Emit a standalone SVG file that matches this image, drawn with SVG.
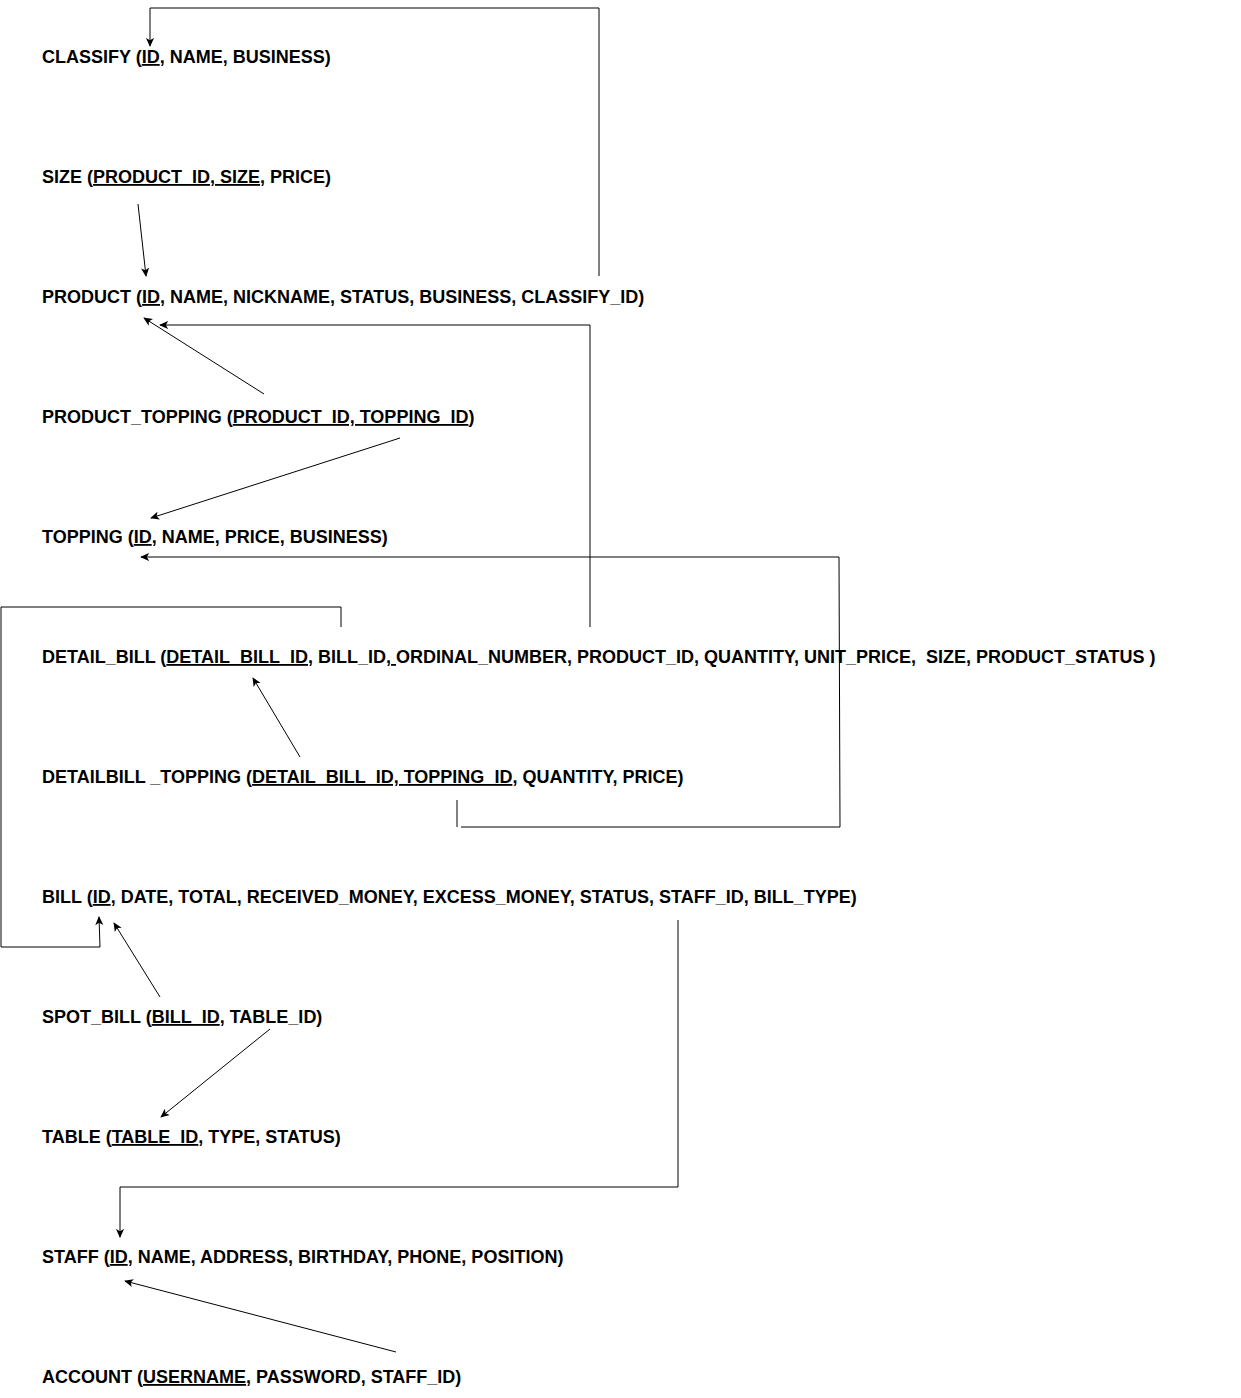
<svg xmlns="http://www.w3.org/2000/svg" width="1241" height="1398" viewBox="0 0 1241 1398">
<style>
text{font-family:"Liberation Sans",Arial,sans-serif;font-weight:bold;font-size:18px;fill:#000;white-space:pre}
.u{text-decoration:underline}
.c{fill:none;stroke:#000;stroke-width:1}
</style>
<defs>
<marker id="a" viewBox="0 0 10 10" refX="9" refY="5" markerWidth="9" markerHeight="9" markerUnits="userSpaceOnUse" orient="auto">
<path d="M0,0.5 L10,5 L0,9.5 L2.5,5 Z" fill="#000"/>
</marker>
</defs>
<rect width="1241" height="1398" fill="#fff"/>
<g id="connectors">
<path class="c" d="M599,276 V8 H150 V46" marker-end="url(#a)"/>
<path class="c" d="M138,204 L146,276" marker-end="url(#a)"/>
<path class="c" d="M264,394 L144,318" marker-end="url(#a)"/>
<path class="c" d="M590,627 V325 H160" marker-end="url(#a)"/>
<path class="c" d="M400,438 L151,518" marker-end="url(#a)"/>
<path class="c" d="M457,800 V827"/>
<path class="c" d="M461,827 H840 L839,557 H141" marker-end="url(#a)"/>
<path class="c" d="M300,757 L253,678" marker-end="url(#a)"/>
<path class="c" d="M341,627 V607 H1 V947 H100 L99,917" marker-end="url(#a)"/>
<path class="c" d="M160,997 L114,923" marker-end="url(#a)"/>
<path class="c" d="M270,1029 L161,1117" marker-end="url(#a)"/>
<path class="c" d="M678,920 V1187 H120 V1237" marker-end="url(#a)"/>
<path class="c" d="M396,1352 L125,1281" marker-end="url(#a)"/>
</g>
<g id="classify"><text x="42" y="63">CLASSIFY (<tspan class="u">ID</tspan>, NAME, BUSINESS)</text></g>
<g id="size"><text x="42" y="183">SIZE (<tspan class="u">PRODUCT_ID, SIZE</tspan>, PRICE)</text></g>
<g id="product"><text x="42" y="303">PRODUCT (<tspan class="u">ID</tspan>, NAME, NICKNAME, STATUS, BUSINESS, CLASSIFY_ID)</text></g>
<g id="product_topping"><text x="42" y="423">PRODUCT_TOPPING (<tspan class="u">PRODUCT_ID, TOPPING_ID</tspan>)</text></g>
<g id="topping"><text x="42" y="543">TOPPING (<tspan class="u">ID</tspan>, NAME, PRICE, BUSINESS)</text></g>
<g id="detail_bill"><text x="42" y="663">DETAIL_BILL (<tspan class="u">DETAIL_BILL_ID</tspan>, BILL_ID,<tspan class="u"> </tspan>ORDINAL_NUMBER, PRODUCT_ID, QUANTITY, UNIT_PRICE,  SIZE, PRODUCT_STATUS )</text></g>
<g id="detailbill_topping"><text x="42" y="783">DETAILBILL _TOPPING (<tspan class="u">DETAIL_BILL_ID, TOPPING_ID</tspan>, QUANTITY, PRICE)</text></g>
<g id="bill"><text x="42" y="903">BILL (<tspan class="u">ID</tspan>, DATE, TOTAL, RECEIVED_MONEY, EXCESS_MONEY, STATUS, STAFF_ID, BILL_TYPE)</text></g>
<g id="spot_bill"><text x="42" y="1023">SPOT_BILL (<tspan class="u">BILL_ID</tspan>, TABLE_ID)</text></g>
<g id="table"><text x="42" y="1143">TABLE (<tspan class="u">TABLE_ID</tspan>, TYPE, STATUS)</text></g>
<g id="staff"><text x="42" y="1263">STAFF (<tspan class="u">ID</tspan>, NAME, ADDRESS, BIRTHDAY, PHONE, POSITION)</text></g>
<g id="account"><text x="42" y="1383">ACCOUNT (<tspan class="u">USERNAME</tspan>, PASSWORD, STAFF_ID)</text></g>
</svg>
